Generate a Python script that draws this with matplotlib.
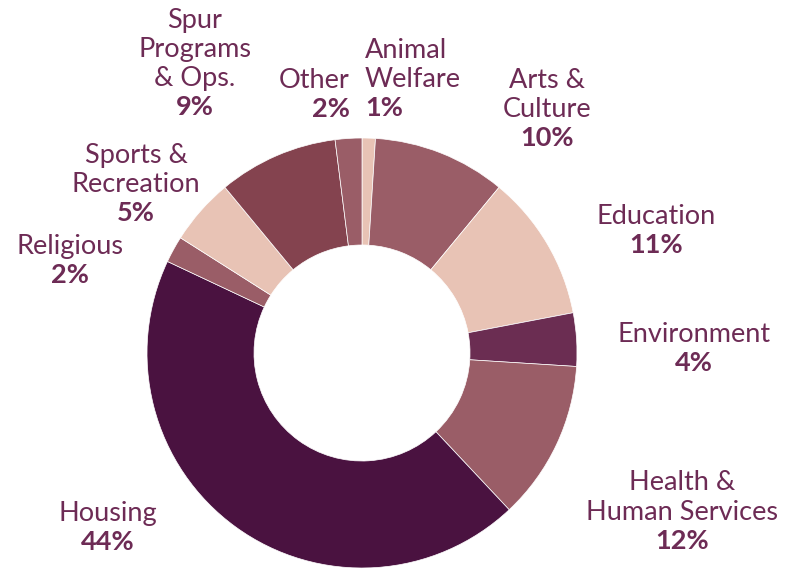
import matplotlib
matplotlib.use("Agg")
import matplotlib.pyplot as plt

categories = ["Animal\nWelfare", "Arts &\nCulture", "Education", "Environment",
              "Health &\nHuman Services", "Housing", "Religious",
              "Sports &\nRecreation", "Spur\nPrograms\n& Ops.", "Other"]
values = [1, 10, 11, 4, 12, 44, 2, 5, 9, 2]
colors = ["#e8c3b5", "#9a5d67", "#e8c3b5", "#6b2d52", "#9a5d67",
          "#4a1240", "#9a5d67", "#e8c3b5", "#84434f", "#9a5d67"]

W, H = 796, 569
fig = plt.figure(figsize=(W / 100, H / 100), dpi=100)
ax = fig.add_axes([0, 0, 1, 1])
cx, cy, R = 362, H - 353, 215
ax.pie(values, colors=colors, startangle=90, counterclock=False,
       center=(cx, cy), radius=R,
       wedgeprops=dict(width=R - 108, edgecolor="white", linewidth=0.5))
ax.set_xlim(0, W)
ax.set_ylim(0, H)
ax.set_aspect("equal")
ax.axis("off")

txtc = "#6d2b55"
font = "Lato"
fs = 19.5
# label positions (pixel x, top-line pixel y, alignment)
label_pos = [
    (365, 50, "left"),
    (547, 80, "center"),
    (656, 216, "center"),
    (694, 334, "center"),
    (682, 483, "center"),
    (108, 513, "center"),
    (70, 246, "center"),
    (136, 155, "center"),
    (195, 20, "center"),
    (350, 80, "right"),
]
lh = 29
for cat, v, (x, y, ha) in zip(categories, values, label_pos):
    lines = cat.split("\n")
    for i, ln in enumerate(lines):
        ax.text(x, H - (y + i * lh), ln, ha=ha, va="center", fontsize=fs,
                color=txtc, family=font)
    ax.text(x, H - (y + len(lines) * lh), f"{v}%", ha=ha, va="center",
            fontsize=fs, color=txtc, family=font, fontweight="bold")

fig.savefig("out.png", dpi=100)
